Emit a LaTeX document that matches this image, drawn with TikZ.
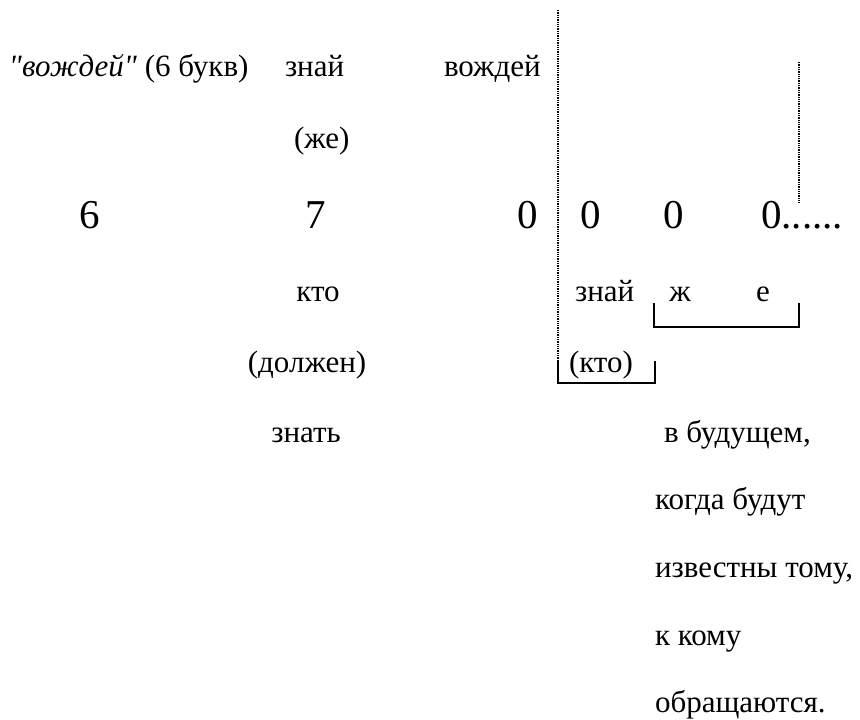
\documentclass[tikz,border=0pt]{standalone}
\usepackage{fontspec}
\setmainfont{Liberation Serif}
\newcommand\strq{\XeTeXglyph\XeTeXglyphindex "quotedbl"\relax}
\begin{document}
\begin{tikzpicture}[x=1pt,y=-1pt,
  txt/.style={inner sep=0pt,outer sep=0pt,font=\fontsize{31}{37}\selectfont},
  dig/.style={inner sep=0pt,outer sep=0pt,font=\fontsize{41}{49}\selectfont},
  guide/.style={densely dotted,line width=1.3pt},
  brk/.style={line width=1.6pt}]
\useasboundingbox (0,0) rectangle (860,720);
% top row
\node[txt,anchor=base west] (t1) at (9,76) {\textit{\strq вождей\strq} (6 букв)};
\node[txt,anchor=base west] (t2) at (285,76) {знай};
\node[txt,anchor=base west] (t3) at (444,76) {вождей};
\node[txt,anchor=base west] (t4) at (294,148) {(же)};
% digits
\node[dig,anchor=base] (d1) at (90,228) {6};
\node[dig,anchor=base] (d2) at (316,228) {7};
\node[dig,anchor=base] (d3) at (528,228) {0};
\node[dig,anchor=base] (d4) at (591,228) {0};
\node[dig,anchor=base] (d5) at (674,228) {0};
\node[dig,anchor=base west] (d6) at (761,228) {0......};
% lower rows
\node[txt,anchor=base] (k1) at (318,301) {кто};
\node[txt,anchor=base west] (k2) at (575,301) {знай};
\node[txt,anchor=base] (k3) at (680,301) {ж};
\node[txt,anchor=base] (k4) at (763,301) {е};
\node[txt,anchor=base] (k5) at (307,372) {(должен)};
\node[txt,anchor=base west] (k6) at (569,372) {(кто)};
\node[txt,anchor=base] (k7) at (306,442) {знать};
\node[txt,anchor=base west] (r1) at (664,442) {в будущем,};
\node[txt,anchor=base west] (r2) at (655,509) {когда будут};
\node[txt,anchor=base west] (r3) at (655,577) {известны тому,};
\node[txt,anchor=base west] (r4) at (655,645) {к кому};
\node[txt,anchor=base west] (r5) at (655,712) {обращаются.};
% guide lines and brackets
\coordinate (g1top) at (558,10);
\coordinate (g1mid) at (558,361);
\coordinate (g1bot) at (558,383);
\coordinate (kb) at (655,383);
\coordinate (kt) at (655,361);
\draw[guide] (g1top) -- (g1mid);
\draw[brk] (g1mid) -- (g1bot) -- (kb) -- (kt);
\coordinate (g2top) at (799,62);
\coordinate (g2bot) at (799,203);
\draw[guide] (g2top) -- (g2bot);
\coordinate (b1) at (654,303);
\coordinate (b2) at (654,327);
\coordinate (b3) at (799,327);
\coordinate (b4) at (799,303);
\draw[brk] (b1) -- (b2) -- (b3) -- (b4);
\end{tikzpicture}
\end{document}
